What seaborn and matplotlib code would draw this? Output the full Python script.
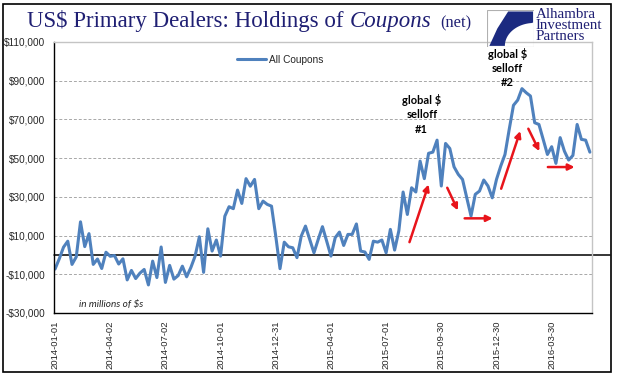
import numpy as np
import pandas as pd
import matplotlib
matplotlib.use("Agg")
import matplotlib.pyplot as plt
import matplotlib.dates as mdates
import matplotlib.patches as patches
from matplotlib.ticker import FuncFormatter
import seaborn as sns

# weekly net holdings of coupons, millions of $
start_date = "2014-01-01"
coupons = [
    -7300, -2000, 4000, 7100, -4900, -1000, 17100, 4300, 11000, -4900,
    -2100, -7000, 1400, -700, -300, -4700, -2000, -12900, -8000, -12200,
    -9400, -7500, -15500, -3200, -11700, 4100, -14200, -5400, -12500, -10700,
    -5800, -11300, -6500, -600, 9400, -9000, 13500, 2000, 7700, -600,
    20000, 24900, 23900, 33500, 26600, 39400, 35500, 39000, 23900, 27800,
    26100, 25200, 9700, -7100, 6600, 4200, 3700, -1400, 9700, 14900,
    8000, 1100, 8000, 14600, 7100, -600, 8900, 11800, 4900, 10600,
    10600, 16000, 2000, 1500, -2300, 7100, 6600, 7700, 1100, 13200,
    2500, 12500, 32500, 20900, 34700, 32500, 48500, 39400, 52500, 53100,
    59300, 35600, 57600, 55000, 45500, 41600, 39000, 29500, 20100, 31300,
    33000, 38700, 35600, 29500, 39000, 45900, 51900, 64900, 77300, 80000,
    85900, 83800, 82100, 68300, 67400, 59700, 51900, 55900, 47300, 60600,
    53600, 49000, 51400, 67400, 59700, 59300, 53100,
]
y_ticks = [-30000, -10000, 10000, 30000, 50000, 70000, 90000, 110000]

# red arrows: (start week, start value, end week, end value)
arrows = [
    (83.5, 6600, 88.0, 36400),
    (92.4, 34700, 94.9, 23000),
    (96.5, 18900, 103.1, 18900),
    (105.1, 34200, 109.6, 64000),
    (111.5, 65200, 114.1, 53600),
    (116.1, 45400, 122.4, 45400),
]
# selloff labels: (week, value, text)
selloff_notes = [
    (86.4, 72600, "global $\nselloff\n#1"),
    (106.6, 96400, "global $\nselloff\n#2"),
]

dates = pd.date_range(start_date, periods=len(coupons), freq="7D")
df = pd.DataFrame({"date": dates, "value": coupons})

W, H = 618, 381
fig = plt.figure(figsize=(W / 100, H / 100), dpi=100)
sns.set_style("white")
plt.rcParams["font.family"] = ["Liberation Sans", "DejaVu Sans"]

ax = fig.add_axes([54 / W, 1 - 313 / H, 538 / W, 271 / H])
blue = "#4f81bd"
sns.lineplot(data=df, x="date", y="value", ax=ax, color=blue, linewidth=2.2,
             label="All Coupons")

ax.set_ylim(-30000, 110000)
ax.set_yticks(y_ticks)
ax.yaxis.set_major_formatter(FuncFormatter(
    lambda v, p: ("-$" if v < 0 else "$") + f"{abs(int(v)):,}"))
ax.yaxis.grid(True, linestyle=(0, (3, 2)), color="#a8a8a8", linewidth=0.7)
ax.set_axisbelow(True)

d0 = mdates.date2num(dates[0])
ax.set_xlim(d0 - 1.7, d0 + 126.5 * 7)
ax.set_xticks(dates[::13])
ax.set_xticks(dates, minor=True)
ax.xaxis.set_major_formatter(mdates.DateFormatter("%Y-%m-%d"))
for lab in ax.get_xticklabels():
    lab.set_rotation(90)
ax.set_xlabel("")
ax.set_ylabel("")
ax.tick_params(axis="x", which="both", direction="out", length=4, width=0.8,
               color="black", labelsize=6.8, pad=1.5)
ax.tick_params(axis="y", direction="out", length=4, width=0.8, color="black",
               labelsize=7.2, pad=2)

for s in ["top", "right"]:
    ax.spines[s].set_color("#c4c4c4")
    ax.spines[s].set_linewidth(1)
for s in ["left", "bottom"]:
    ax.spines[s].set_color("black")
    ax.spines[s].set_linewidth(1)

ax.axhline(0, xmin=0, xmax=(610 - 54) / 538, color="black", linewidth=1.1,
           clip_on=False, zorder=1.5)

ax.legend(loc="center left", bbox_to_anchor=(0.34, 0.934), frameon=False,
          handlelength=2.9, handletextpad=0.3, borderaxespad=0, borderpad=0,
          fontsize=7.3)

# annotations
for w0, v0, w1, v1 in arrows:
    ax.annotate("", xy=(d0 + w1 * 7, v1), xytext=(d0 + w0 * 7, v0),
                arrowprops=dict(arrowstyle="-|>", color="#e8141b", lw=1.8,
                                mutation_scale=9, shrinkA=0, shrinkB=0))
for w, v, txt in selloff_notes:
    ax.text(d0 + w * 7, v, txt, ha="center", va="center", fontsize=8,
            fontweight="bold", family=["Lato", "DejaVu Sans"],
            linespacing=1.35, color="black")
ax.text(0.046, 0.03, "in millions of $s", transform=ax.transAxes,
        fontsize=7.2, style="italic", family=["Lato", "DejaVu Sans"],
        va="center", ha="left")

# title built from pieces
navy = "#1f1f73"
renderer = fig.canvas.get_renderer()
title_y = 1 - 27 / H
base = 15
t1 = fig.text(27 / W, title_y, "US$ Primary Dealers: Holdings of ",
              fontsize=base, family="Liberation Serif", color=navy,
              va="baseline")
t2 = fig.text(0, title_y, "Coupons", fontsize=base, family="Liberation Serif",
              style="italic", color=navy, va="baseline")
w1 = t1.get_window_extent(renderer).width
w2 = t2.get_window_extent(renderer).width
scale = 405 / (w1 + w2)
t1.set_fontsize(base * scale)
t2.set_fontsize(base * scale)
w1 = t1.get_window_extent(renderer).width
t2.set_x((27 + w1) / W)
fig.text(440 / W, title_y, "(net)", fontsize=base * scale * 0.72,
         family="Liberation Serif", color=navy, va="baseline")

# logo
lax = fig.add_axes([487 / W, 1 - 47 / H, 47 / W, 37 / H])
lax.set_xlim(0, 1)
lax.set_ylim(0, 1)
lax.axis("off")
lax.add_patch(patches.Rectangle((0, 0), 1, 1, fill=False, ec="#b0b0b0",
                                lw=0.8))
ang = np.linspace(np.radians(95), np.radians(180), 30)
arc = [(1.0 + 0.62 * np.cos(a), 0.03 + 0.62 * np.sin(a)) for a in ang]
shape = [(0.45, 0.96), (0.98, 0.96), (0.98, 0.66)] + arc + \
        [(0.38, 0.03), (0.05, 0.03), (0.22, 0.5)]
lax.add_patch(patches.Polygon(shape, closed=True, fc="#1b2a80", ec="none"))

fig.text(536 / W, 1 - 8 / H, "Alhambra\nInvestment\nPartners", fontsize=10.8,
         family="Liberation Serif", color=navy, va="top", ha="left",
         linespacing=0.82)

fig.patches.append(patches.Rectangle((3 / W, 1 - 372 / H), 608 / W, 368 / H,
                                     transform=fig.transFigure, fill=False,
                                     ec="black", lw=1.2))

fig.savefig("out.png", dpi=100)
